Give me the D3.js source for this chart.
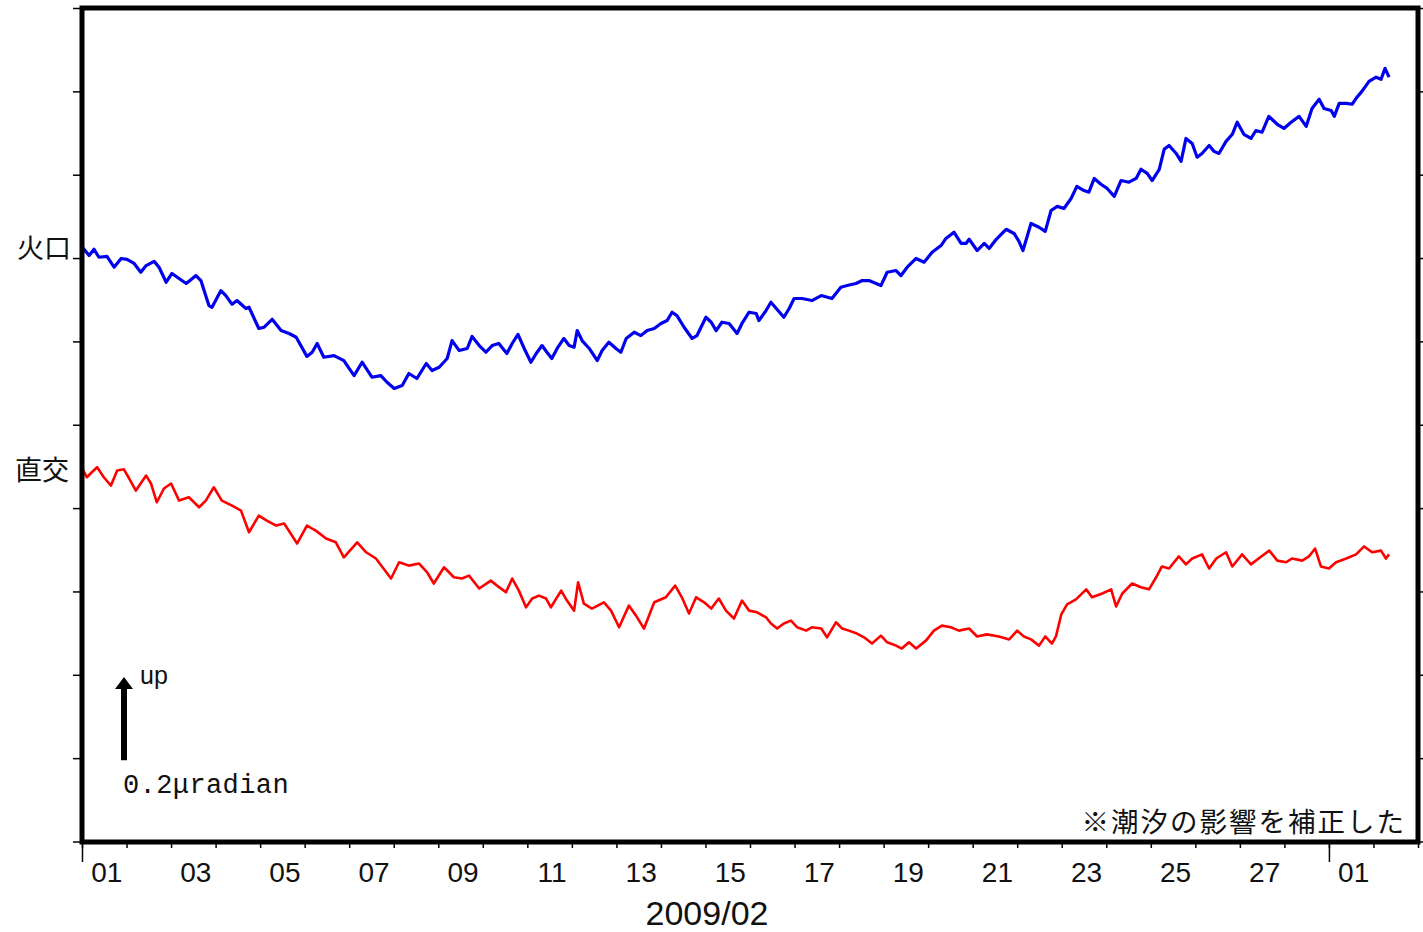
<!DOCTYPE html>
<html><head><meta charset="utf-8">
<script src="https://cdn.jsdelivr.net/npm/d3@7"></script>
<style>
html,body{margin:0;padding:0;background:#fff;}
svg{display:block;}
</style></head>
<body>
<script>
// ---- data (tilt, μrad) ----
const startDate = new Date(2009, 1, 1);
const endDate = new Date(2009, 2, 3);
const kakoLabel = "火口";
const chokkoLabel = "直交";
const kakoDays = [0.01,0.16,0.27,0.38,0.56,0.72,0.88,1.01,1.17,1.32,1.44,1.62,1.73,1.89,2.02,2.18,2.34,2.56,2.67,2.85,2.92,3.12,3.23,3.37,3.48,3.68,3.75,3.97,4.09,4.27,4.47,4.65,4.81,5.05,5.17,5.28,5.43,5.66,5.88,6.11,6.29,6.51,6.71,6.85,7.01,7.19,7.34,7.52,7.73,7.86,8.02,8.20,8.31,8.47,8.65,8.76,8.92,9.07,9.21,9.36,9.54,9.66,9.79,9.93,10.08,10.20,10.33,10.44,10.55,10.67,10.82,10.94,11.05,11.12,11.23,11.39,11.57,11.68,11.83,11.99,12.10,12.22,12.40,12.55,12.69,12.85,13.00,13.14,13.25,13.36,13.52,13.70,13.81,14.01,14.13,14.24,14.37,14.53,14.71,14.82,14.98,15.14,15.20,15.36,15.47,15.59,15.76,15.88,15.99,16.17,16.39,16.60,16.84,17.04,17.18,17.38,17.52,17.67,17.94,18.08,18.28,18.39,18.53,18.73,18.91,19.09,19.29,19.40,19.58,19.74,19.85,19.92,20.10,20.26,20.37,20.53,20.75,20.93,21.04,21.13,21.31,21.49,21.63,21.76,21.90,22.05,22.21,22.34,22.50,22.61,22.73,22.88,23.02,23.18,23.33,23.51,23.67,23.78,23.92,24.03,24.19,24.30,24.41,24.57,24.68,24.79,24.93,25.04,25.15,25.31,25.42,25.53,25.69,25.83,25.94,26.09,26.25,26.36,26.50,26.65,26.84,26.99,27.15,27.33,27.49,27.62,27.78,27.89,28.05,28.12,28.23,28.39,28.52,28.63,28.74,28.90,29.06,29.17,29.26,29.35];
const kakoValues = [1.426,1.406,1.421,1.402,1.404,1.378,1.399,1.397,1.387,1.366,1.382,1.392,1.378,1.342,1.363,1.351,1.339,1.358,1.346,1.286,1.282,1.322,1.310,1.289,1.298,1.279,1.282,1.231,1.234,1.253,1.226,1.219,1.210,1.164,1.174,1.195,1.162,1.166,1.154,1.118,1.150,1.114,1.118,1.102,1.087,1.094,1.123,1.111,1.147,1.130,1.138,1.159,1.202,1.178,1.183,1.212,1.190,1.174,1.190,1.195,1.171,1.195,1.217,1.183,1.150,1.171,1.190,1.174,1.159,1.183,1.207,1.190,1.186,1.226,1.202,1.183,1.154,1.178,1.198,1.183,1.174,1.207,1.222,1.214,1.226,1.231,1.243,1.250,1.270,1.262,1.234,1.207,1.214,1.258,1.246,1.226,1.246,1.243,1.219,1.243,1.270,1.267,1.250,1.274,1.294,1.279,1.258,1.279,1.303,1.303,1.298,1.310,1.303,1.330,1.334,1.339,1.346,1.346,1.334,1.366,1.370,1.358,1.378,1.399,1.390,1.414,1.430,1.447,1.462,1.435,1.435,1.445,1.418,1.435,1.423,1.445,1.469,1.459,1.440,1.418,1.483,1.474,1.464,1.514,1.524,1.519,1.543,1.572,1.562,1.558,1.591,1.577,1.567,1.548,1.586,1.582,1.591,1.613,1.603,1.586,1.613,1.661,1.670,1.651,1.632,1.687,1.675,1.642,1.651,1.670,1.656,1.651,1.680,1.697,1.726,1.697,1.687,1.706,1.702,1.740,1.721,1.711,1.726,1.740,1.716,1.759,1.781,1.759,1.754,1.740,1.771,1.771,1.769,1.786,1.800,1.824,1.834,1.829,1.855,1.834];
const chokkoDays = [0.00,0.11,0.22,0.34,0.49,0.65,0.79,0.94,1.06,1.21,1.44,1.55,1.68,1.84,2.00,2.18,2.40,2.63,2.78,2.96,3.14,3.37,3.57,3.75,3.97,4.15,4.36,4.54,4.83,5.05,5.25,5.48,5.70,5.88,6.18,6.38,6.60,6.94,7.12,7.34,7.57,7.75,7.90,8.13,8.35,8.53,8.69,8.92,9.18,9.32,9.52,9.66,9.81,9.97,10.11,10.26,10.42,10.53,10.76,10.89,11.05,11.14,11.27,11.45,11.72,11.88,12.06,12.28,12.44,12.62,12.85,13.11,13.32,13.47,13.63,13.79,13.97,14.13,14.30,14.46,14.64,14.82,14.98,15.16,15.36,15.47,15.61,15.76,15.92,16.06,16.26,16.39,16.60,16.73,16.93,17.07,17.22,17.40,17.56,17.74,17.94,18.08,18.28,18.41,18.57,18.73,18.95,19.13,19.31,19.51,19.69,19.92,20.10,20.32,20.59,20.82,21.00,21.15,21.31,21.49,21.63,21.78,21.87,21.99,22.12,22.32,22.55,22.68,22.91,23.11,23.22,23.36,23.58,23.78,23.96,24.12,24.25,24.41,24.63,24.79,24.93,25.15,25.31,25.47,25.69,25.83,26.05,26.25,26.48,26.66,26.84,27.04,27.17,27.40,27.55,27.69,27.82,28.00,28.16,28.39,28.61,28.79,28.97,29.17,29.28,29.35];
const chokkoValues = [0.895,0.874,0.886,0.898,0.874,0.854,0.890,0.893,0.871,0.842,0.878,0.859,0.814,0.847,0.859,0.818,0.826,0.802,0.818,0.850,0.818,0.806,0.794,0.742,0.782,0.770,0.758,0.763,0.715,0.758,0.746,0.727,0.718,0.682,0.718,0.694,0.679,0.631,0.670,0.662,0.667,0.646,0.619,0.658,0.634,0.631,0.638,0.607,0.626,0.614,0.598,0.631,0.602,0.562,0.583,0.590,0.583,0.562,0.602,0.578,0.554,0.622,0.571,0.559,0.574,0.554,0.514,0.566,0.542,0.511,0.574,0.586,0.614,0.586,0.547,0.586,0.574,0.559,0.583,0.554,0.535,0.578,0.554,0.550,0.538,0.523,0.511,0.523,0.530,0.514,0.506,0.514,0.511,0.490,0.526,0.511,0.506,0.499,0.490,0.475,0.494,0.478,0.470,0.463,0.478,0.463,0.482,0.506,0.518,0.514,0.506,0.511,0.492,0.497,0.492,0.485,0.506,0.492,0.485,0.470,0.492,0.475,0.492,0.545,0.569,0.581,0.605,0.586,0.595,0.605,0.564,0.595,0.619,0.610,0.605,0.634,0.660,0.655,0.684,0.665,0.679,0.689,0.655,0.679,0.694,0.660,0.689,0.665,0.684,0.698,0.674,0.670,0.679,0.674,0.684,0.703,0.660,0.655,0.670,0.679,0.689,0.708,0.694,0.698,0.679,0.689];
const yTickValues = [0,0.2,0.4,0.6,0.8,1.0,1.2,1.4,1.6,1.8,2.0];
const xLabelDays = ["01","03","05","07","09","11","13","15","17","19","21","23","25","27","01"];
const monthLabel = "2009/02";
const scaleBarBase = 0.195;
const scaleBarLength = 0.2;
const scaleBarText = "0.2μradian";
const upText = "up";
const noteText = "※潮汐の影響を補正した";

if (kakoDays.length !== kakoValues.length || chokkoDays.length !== chokkoValues.length) {
  throw new Error("length mismatch " + kakoDays.length + "/" + kakoValues.length + " " + chokkoDays.length + "/" + chokkoValues.length);
}

const W = 1423, H = 932;
const svg = d3.select("body").append("svg").attr("width", W).attr("height", H);
svg.append("rect").attr("width", W).attr("height", H).attr("fill", "#fff");

const x = d3.scaleTime().domain([startDate, endDate]).range([82, 1418]);
const y = d3.scaleLinear().domain([0, 2]).range([841.5, 8]);
const dayMs = 86400000;
const toDate = t => new Date(startDate.getTime() + t * dayMs);

// y ticks (left and right, outside)
const yl = svg.append("g").attr("transform", "translate(80,0)")
  .call(d3.axisLeft(y).tickValues(yTickValues).tickSize(7).tickFormat(""));
const yr = svg.append("g").attr("transform", "translate(1420,0)")
  .call(d3.axisRight(y).tickValues(yTickValues).tickSize(7).tickFormat(""));
[yl, yr].forEach(g => { g.select(".domain").remove(); g.selectAll("line").attr("stroke", "#000").attr("stroke-width", 1.5); });

// x day ticks
const dayTicks = d3.timeDay.range(startDate, d3.timeDay.offset(endDate, 1));
const xm = svg.append("g").attr("transform", "translate(0,842)")
  .call(d3.axisBottom(x).tickValues(dayTicks).tickSize(6).tickFormat(""));
const monthTicks = [startDate, new Date(2009, 2, 1)];
const xM = svg.append("g").attr("transform", "translate(0,842)")
  .call(d3.axisBottom(x).tickValues(monthTicks).tickSize(20).tickFormat(""));
[xm, xM].forEach(g => { g.select(".domain").remove(); g.selectAll("line").attr("stroke", "#000").attr("stroke-width", 1.5); });

// x labels at noon of odd days
const labelDates = xLabelDays.map((d, i) => new Date(2009, 1, 1 + 2 * i, 12));
const labelMap = new Map(labelDates.map((d, i) => [+d, xLabelDays[i]]));
const xl = svg.append("g").attr("transform", "translate(0,842)")
  .call(d3.axisBottom(x).tickValues(labelDates).tickSize(0).tickPadding(20).tickFormat(d => labelMap.get(+d)));
xl.select(".domain").remove();
xl.selectAll("text").attr("font-family", "'Liberation Sans', Arial, sans-serif").attr("font-size", 28).attr("fill", "#111").attr("dx", 2);

svg.append("text").attr("x", 707).attr("y", 925).attr("text-anchor", "middle")
  .attr("font-family", "'Liberation Sans', Arial, sans-serif").attr("font-size", 34).attr("fill", "#111").text(monthLabel);

// lines
const line = d3.line().x(d => x(toDate(d[0]))).y(d => y(d[1]));
svg.append("path").datum(d3.zip(kakoDays, kakoValues)).attr("d", line)
  .attr("fill", "none").attr("stroke", "#0000ee").attr("stroke-width", 3.2).attr("stroke-linejoin", "round");
svg.append("path").datum(d3.zip(chokkoDays, chokkoValues)).attr("d", line)
  .attr("fill", "none").attr("stroke", "#ff0000").attr("stroke-width", 2.6).attr("stroke-linejoin", "round");

// frame
svg.append("rect").attr("x", 82).attr("y", 8).attr("width", 1336).attr("height", 834)
  .attr("fill", "none").attr("stroke", "#000").attr("stroke-width", 5);

// series labels
const cjk = "'Noto Sans CJK JP', 'Noto Sans CJK SC', sans-serif";
svg.append("text").attr("x", 71).attr("y", 258).attr("text-anchor", "end")
  .attr("font-family", cjk).attr("font-size", 27).attr("fill", "#111").text(kakoLabel);
svg.append("text").attr("x", 69).attr("y", 480).attr("text-anchor", "end")
  .attr("font-family", cjk).attr("font-size", 27).attr("fill", "#111").text(chokkoLabel);

// scale bar
const ax = 124;
const yTop = y(scaleBarBase + scaleBarLength), yBot = y(scaleBarBase);
svg.append("line").attr("x1", ax).attr("x2", ax).attr("y1", yBot).attr("y2", yTop + 10)
  .attr("stroke", "#000").attr("stroke-width", 6);
svg.append("path").attr("d", `M${ax},${yTop} L${ax - 9},${yTop + 12} L${ax + 9},${yTop + 12} Z`).attr("fill", "#000");
svg.append("text").attr("x", 140).attr("y", 684)
  .attr("font-family", "'Liberation Sans', Arial, sans-serif").attr("font-size", 25).attr("fill", "#111").text(upText);
svg.append("text").attr("x", 123).attr("y", 793)
  .attr("font-family", "'Liberation Mono', 'DejaVu Sans Mono', monospace").attr("font-size", 27).attr("letter-spacing", 0.4).attr("fill", "#111").text(scaleBarText);

// note
svg.append("text").attr("x", 1406).attr("y", 832).attr("text-anchor", "end")
  .attr("font-family", cjk).attr("font-size", 27.5).attr("letter-spacing", 2).attr("fill", "#111").text(noteText);
</script>
</body></html>
